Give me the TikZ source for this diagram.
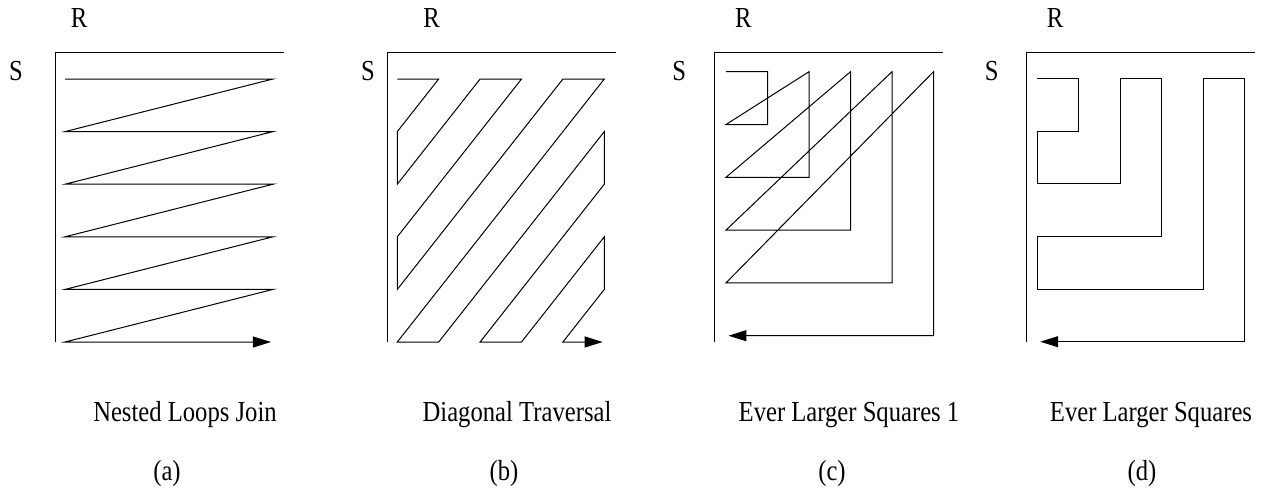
\documentclass[tikz,border=0pt]{standalone}
\usepackage{fontspec}
\setmainfont{Liberation Serif}[FakeStretch=0.85]
\usetikzlibrary{arrows.meta}
\tikzset{
  axis/.style={line width=0.5pt},
  walk/.style={line width=0.5pt, line join=miter},
  walkend/.style={walk, -{Triangle[length=9pt,width=5.5pt]}},
  lbl/.style={anchor=base, inner sep=0pt, font=\fontsize{14.5pt}{17pt}\selectfont}
}
\begin{document}
\begin{tikzpicture}[x=0.5pt,y=-0.5pt]
\useasboundingbox (0,0) rectangle (1264,488);
% (a) nested loops
\draw[axis] (284,52) -- (55,52) -- (55,342);
\node[lbl] (ra) at (79,27) {R};
\node[lbl] (sa) at (16,80) {S};
\begin{scope}[xshift=32.5pt,yshift=-39.5pt,x=104pt,y=-26.3pt]
  \draw[walkend] (0,0) -- (1,0) -- (0,1) -- (1,1) -- (0,2) -- (1,2) -- (0,3) -- (1,3)
    -- (0,4) -- (1,4) -- (0,5) -- (0.99,5);
\end{scope}
\node[lbl] (capa) at (185,421.5) {Nested Loops Join};
\node[lbl] (taga) at (167,480) {(a)};
% (b) diagonal
\draw[axis] (615.7,52) -- (387.7,52) -- (387.7,342);
\node[lbl] (rb) at (431.7,27) {R};
\node[lbl] (sb) at (368,80) {S};
\begin{scope}[xshift=198.65pt,yshift=-39.5pt,x=20.7pt,y=-26.3pt]
  \draw[walkend] (0,0) -- (1,0) -- (0,1) -- (0,2) -- (2,0) -- (3,0) -- (0,3) -- (0,4)
    -- (4,0) -- (5,0) -- (0,5) -- (1,5) -- (5,1) -- (5,2) -- (2,5) -- (3,5)
    -- (5,3) -- (5,4) -- (4,5) -- (4.96,5);
\end{scope}
\node[lbl] (capb) at (517,421.5) {Diagonal Traversal};
\node[lbl] (tagb) at (504,480) {(b)};
% (c) squares, first version
\draw[axis] (943.3,52) -- (714.3,52) -- (714.3,342);
\node[lbl] (rc) at (743.3,27) {R};
\node[lbl] (sc) at (679.3,80) {S};
\begin{scope}[xshift=363pt,yshift=-35.85pt,x=20.75pt,y=-26.4pt]
  \draw[walkend] (0,0) -- (1,0) -- (1,1) -- (0,1) -- (2,0) -- (2,2) -- (0,2) -- (3,0)
    -- (3,3) -- (0,3) -- (4,0) -- (4,4) -- (0,4) -- (5,0) -- (5,5) -- (0.06,5);
\end{scope}
\node[lbl] (capc) at (849,421.5) {Ever Larger Squares 1};
\node[lbl] (tagc) at (832,480) {(c)};
% (d) squares
\draw[axis] (1254.7,52) -- (1026.3,52) -- (1026.3,342);
\node[lbl] (rd) at (1055,27) {R};
\node[lbl] (sd) at (991.7,80) {S};
\begin{scope}[xshift=518.65pt,yshift=-39.35pt,x=20.75pt,y=-26.3pt]
  \draw[walkend] (0,0) -- (1,0) -- (1,1) -- (0,1) -- (0,2) -- (2,2) -- (2,0) -- (3,0)
    -- (3,3) -- (0,3) -- (0,4) -- (4,4) -- (4,0) -- (5,0) -- (5,5) -- (0.07,5);
\end{scope}
\node[lbl] (capd) at (1151,421.5) {Ever Larger Squares};
\node[lbl] (tagd) at (1142,480) {(d)};
\end{tikzpicture}
\end{document}
